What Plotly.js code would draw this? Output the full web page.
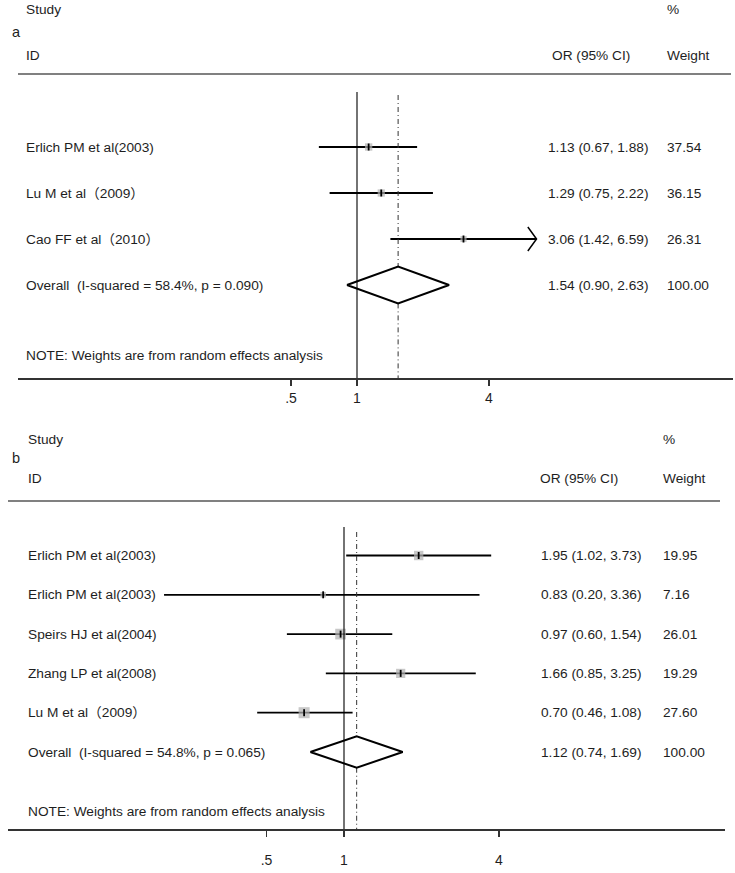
<!DOCTYPE html>
<html>
<head>
<meta charset="utf-8">
<script src="https://cdn.plot.ly/plotly-3.0.1.min.js"></script>
<style>
  html, body { margin: 0; padding: 0; background: #ffffff; }
  #chart { width: 735px; height: 873px; }
</style>
</head>
<body>
<div id="chart"></div>
<script>
/****************************************************************************************
* Data
****************************************************************************************/
// panel a
const studiesA = ['Erlich PM et al(2003)', 'Lu M et al（2009）', 'Cao FF et al（2010）'];
const orA = [1.13, 1.29, 3.06];
const lowA = [0.67, 0.75, 1.42];
const highA = [1.88, 2.22, 6.59];
const weightA = [37.54, 36.15, 26.31];
const overallA = [1.54, 0.90, 2.63];   // OR, low, high
const hetA = ['58.4%', '0.090'];       // I-squared, p

// panel b
const studiesB = ['Erlich PM et al(2003)', 'Erlich PM et al(2003)', 'Speirs HJ et al(2004)',
    'Zhang LP et al(2008)', 'Lu M et al（2009）'];
const orB = [1.95, 0.83, 0.97, 1.66, 0.70];
const lowB = [1.02, 0.20, 0.60, 0.85, 0.46];
const highB = [3.73, 3.36, 1.54, 3.25, 1.08];
const weightB = [19.95, 7.16, 26.01, 19.29, 27.60];
const overallB = [1.12, 0.74, 1.69];
const hetB = ['54.8%', '0.065'];

// axis ticks
const tickVals = [0.5, 1, 4];
const tickText = ['.5', '1', '4'];
const noteText = 'NOTE: Weights are from random effects analysis';

/****************************************************************************************
* Layout geometry (pixels)
****************************************************************************************/
const W = 735, H = 873;
const FONT = 'Liberation Sans, Arial, Noto Sans CJK SC, sans-serif';
const TXT = '#1e1e1e';
const FS = 13.7;
const PAD = 2; // annotation box padding, pulled back so text starts where asked

const geomA = {
    letter: 'a', top: 0, bottom: 378, row0: 147, rowStep: 46,
    x1px: 357, perDouble: 66, axisLeft: 18, axisRight: 733,
    labelX: 26, orX: 548, orHeadX: 552, wX: 667, wHeadX: 667,
    studyY: 10, letterY: 32, idY: 56, ruleY: 74, ruleL: 18, ruleR: 731,
    noteY: 355, nullTop: 92, dashTop: 95, boxK: 1.2, standoff: 0
};
const geomB = {
    letter: 'b', top: 420, bottom: 829, row0: 555.5, rowStep: 39.3,
    x1px: 344, perDouble: 77.5, axisLeft: 8, axisRight: 725,
    labelX: 28, orX: 541, orHeadX: 540, wX: 663, wHeadX: 663,
    studyY: 439, letterY: 458, idY: 478, ruleY: 501, ruleL: 8, ruleR: 720,
    noteY: 811, nullTop: 527, dashTop: 532, boxK: 2.1, standoff: 11
};

const px = (x) => x / W;
const py = (y) => 1 - y / H;

/****************************************************************************************
* Builders
****************************************************************************************/
let data = [];
let annotations = [];
let shapes = [];
let layout = {};

function textAnno(text, x, y, anchor, extra) {
    return Object.assign({
        text: text, x: px(x - PAD), y: py(y), xref: 'paper', yref: 'paper',
        xanchor: anchor || 'left', yanchor: 'middle', showarrow: false,
        font: { family: FONT, size: FS, color: TXT }
    }, extra || {});
}

function buildPanel(g, axId, studies, or, low, high, weight, overall, het) {
    const xa = axId === 1 ? 'x' : 'x2';
    const ya = axId === 1 ? 'y' : 'y2';
    const rowOf = (pix) => (pix - g.row0) / g.rowStep;
    const n = studies.length;
    const bottomRow = rowOf(g.bottom);
    const dh = 0.4; // diamond half height in rows

    // confidence intervals
    let cx = [], cy = [];
    for (let i = 0; i < n; i++) {
        cx.push(low[i], high[i], null);
        cy.push(i, i, null);
    }
    data.push({ x: cx, y: cy, xaxis: xa, yaxis: ya, mode: 'lines', type: 'scatter',
        line: { color: '#000', width: 1.8 }, hoverinfo: 'skip' });

    // arrow heads for CIs that run off the usual scale
    const arrowAt = 6;
    let ax = [], ay = [];
    for (let i = 0; i < n; i++) {
        if (high[i] > arrowAt) {
            const back = high[i] / Math.pow(2, 8.7 / g.perDouble);
            const h = 12 / g.rowStep;
            ax.push(back, high[i], back, null);
            ay.push(i - h, i, i + h, null);
        }
    }
    if (ax.length) {
        data.push({ x: ax, y: ay, xaxis: xa, yaxis: ya, mode: 'lines', type: 'scatter',
            line: { color: '#000', width: 1.5 }, hoverinfo: 'skip' });
    }

    // weight boxes
    data.push({ x: or, y: studies.map((s, i) => i), xaxis: xa, yaxis: ya,
        mode: 'markers', type: 'scatter', hoverinfo: 'skip',
        marker: { symbol: 'square', color: '#b0b0b0', size: weight.map(w => g.boxK * Math.sqrt(w)),
            line: { width: 0 } } });
    // point estimate marks
    data.push({ x: or, y: studies.map((s, i) => i), xaxis: xa, yaxis: ya,
        mode: 'markers', type: 'scatter', hoverinfo: 'skip',
        marker: { symbol: 'line-ns', size: 5, line: { color: '#000', width: 1.8 } } });

    // null line
    data.push({ x: [1, 1], y: [rowOf(g.nullTop), bottomRow], xaxis: xa, yaxis: ya,
        mode: 'lines', type: 'scatter', hoverinfo: 'skip', line: { color: '#000', width: 1.1 } });

    // overall estimate line, skipping the diamond
    data.push({ x: [overall[0], overall[0], null, overall[0], overall[0]],
        y: [rowOf(g.dashTop), n - dh, null, n + dh, bottomRow], xaxis: xa, yaxis: ya,
        mode: 'lines', type: 'scatter', hoverinfo: 'skip',
        line: { color: '#333', width: 1, dash: '5px,3px,1px,3px' } });

    // overall diamond
    data.push({ x: [overall[1], overall[0], overall[2], overall[0], overall[1]],
        y: [n, n - dh, n, n + dh, n], xaxis: xa, yaxis: ya,
        mode: 'lines', type: 'scatter', hoverinfo: 'skip', line: { color: '#000', width: 2 } });

    // axes
    const l2 = Math.log10(2);
    layout[axId === 1 ? 'xaxis' : 'xaxis2'] = {
        type: 'log', anchor: ya,
        domain: [px(g.axisLeft), px(g.axisRight)],
        range: [((g.axisLeft - g.x1px) / g.perDouble) * l2, ((g.axisRight - g.x1px) / g.perDouble) * l2],
        showline: true, linecolor: '#333', linewidth: 1.8,
        ticks: 'outside', ticklen: 6, tickwidth: 1.2, tickcolor: '#333',
        tickvals: tickVals, ticktext: tickText, ticklabelstandoff: g.standoff,
        tickfont: { family: FONT, size: 14, color: TXT },
        showgrid: false, zeroline: false, fixedrange: true
    };
    layout[axId === 1 ? 'yaxis' : 'yaxis2'] = {
        anchor: xa, domain: [py(g.bottom), py(g.top)],
        range: [bottomRow, rowOf(g.top)], visible: false, fixedrange: true
    };

    // header texts and rule
    annotations.push(textAnno('Study', g.labelX, g.studyY));
    annotations.push(textAnno(g.letter, 12, g.letterY, 'left', { font: { family: FONT, size: 14.5, color: TXT } }));
    annotations.push(textAnno('ID', g.labelX, g.idY));
    annotations.push(textAnno('%', g.wHeadX, g.studyY));
    annotations.push(textAnno('OR (95% CI)', g.orHeadX, g.idY));
    annotations.push(textAnno('Weight', g.wHeadX, g.idY));
    shapes.push({ type: 'line', xref: 'paper', yref: 'paper', x0: px(g.ruleL), x1: px(g.ruleR),
        y0: py(g.ruleY), y1: py(g.ruleY), line: { color: '#808080', width: 2 } });

    // study rows
    const rowText = (text, x, row) => ({
        text: text, x: px(x - PAD), y: row, xref: 'paper', yref: ya,
        xanchor: 'left', yanchor: 'middle', showarrow: false,
        font: { family: FONT, size: FS, color: TXT }
    });
    for (let i = 0; i < n; i++) {
        annotations.push(rowText(studies[i], g.labelX, i));
        annotations.push(rowText(or[i].toFixed(2) + ' (' + low[i].toFixed(2) + ', ' + high[i].toFixed(2) + ')', g.orX, i));
        annotations.push(rowText(weight[i].toFixed(2), g.wX, i));
    }
    annotations.push(rowText('Overall\u00a0 (I-squared = ' + het[0] + ', p = ' + het[1] + ')', g.labelX, n));
    annotations.push(rowText(overall[0].toFixed(2) + ' (' + overall[1].toFixed(2) + ', ' + overall[2].toFixed(2) + ')', g.orX, n));
    annotations.push(rowText('100.00', g.wX, n));
    annotations.push(textAnno(noteText, g.labelX, g.noteY));
}

buildPanel(geomA, 1, studiesA, orA, lowA, highA, weightA, overallA, hetA);
buildPanel(geomB, 2, studiesB, orB, lowB, highB, weightB, overallB, hetB);

Object.assign(layout, {
    width: W, height: H,
    margin: { l: 0, r: 0, t: 0, b: 0 },
    paper_bgcolor: '#ffffff', plot_bgcolor: 'rgba(0,0,0,0)',
    showlegend: false,
    annotations: annotations,
    shapes: shapes
});

Plotly.newPlot('chart', data, layout, { staticPlot: true, displayModeBar: false });
</script>
</body>
</html>
